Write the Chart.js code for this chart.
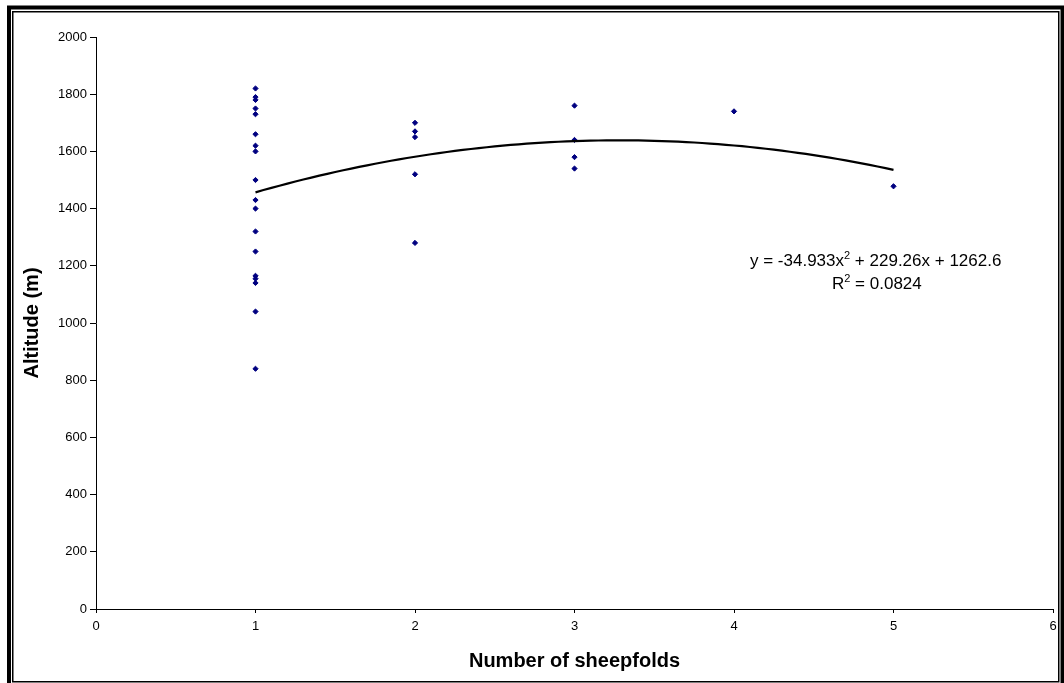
<!DOCTYPE html>
<html><head><meta charset="utf-8">
<script src="https://cdn.jsdelivr.net/npm/chart.js@4.4.1/dist/chart.umd.min.js"></script>
<style>html,body{margin:0;padding:0;background:#fff;overflow:hidden}#wrap{width:1064px;height:683px}</style>
</head><body><div id="wrap"><canvas id="c" width="1064" height="683"></canvas></div>
<script>
// ---- data ----
const sheepfolds = [1,1,1,1,1,1,1,1,1,1,1,1,1,1,1,1,1,1, 2,2,2,2,2, 3,3,3,3, 4, 5];
const altitudes  = [1820,1790,1780,1750,1730,1660,1620,1600,1500,1430,1400,1320,1250,1165,1155,1140,1040,840,
                    1700,1670,1650,1520,1280,
                    1760,1640,1580,1540,
                    1740,
                    1478];
const trendCoefficients = [-34.933, 229.26, 1262.6]; // a, b, c of y = a x^2 + b x + c
const trendRange = [1, 5];
const xTicks = [0,1,2,3,4,5,6];
const yTicks = [0,200,400,600,800,1000,1200,1400,1600,1800,2000];
const xTitle = 'Number of sheepfolds';
const yTitle = 'Altitude (m)';
const eqLine1 = ['y = -34.933x', '2', ' + 229.26x + 1262.6'];
const eqLine2 = ['R', '2', ' = 0.0824'];

const scatterPts = sheepfolds.map((x,i)=>({x:x, y:altitudes[i]}));
const trendPts = [];
for (let k=0;k<=80;k++){
  const x = trendRange[0] + (trendRange[1]-trendRange[0])*k/80;
  const [a,b,c] = trendCoefficients;
  trendPts.push({x:x, y:a*x*x + b*x + c});
}

const FONT = "'Liberation Sans', Arial, sans-serif";

const framePlugin = {
  id:'frame',
  beforeDraw(chart){
    const ctx = chart.ctx;
    ctx.save(); ctx.fillStyle='#fff'; ctx.fillRect(0,0,chart.width,chart.height); ctx.restore();
  },
  afterDraw(chart){
    const ctx = chart.ctx;
    const ca = chart.chartArea;
    ctx.save();
    ctx.strokeStyle='#000';
    ctx.lineWidth=4;
    ctx.strokeRect(9, 7.5, 1053.5, 680);
    ctx.lineWidth=1.5;
    ctx.strokeRect(12.75, 11.75, 1046, 670);
    ctx.fillStyle='#000';
    // axis titles
    ctx.font = 'bold 20px ' + FONT;
    ctx.textAlign = 'center';
    ctx.textBaseline = 'middle';
    ctx.fillText(xTitle, (ca.left+ca.right)/2, 661);
    ctx.save();
    ctx.translate(32, (ca.top+ca.bottom)/2);
    ctx.rotate(-Math.PI/2);
    ctx.fillText(yTitle, 0, 0);
    ctx.restore();
    // equation text
    ctx.textAlign = 'left';
    ctx.textBaseline='alphabetic';
    const drawSup = (parts, x, y) => {
      ctx.font = '17px ' + FONT;
      ctx.fillText(parts[0], x, y); x += ctx.measureText(parts[0]).width;
      ctx.font = '11px ' + FONT;
      ctx.fillText(parts[1], x, y-7); x += ctx.measureText(parts[1]).width;
      ctx.font = '17px ' + FONT;
      ctx.fillText(parts[2], x, y);
    };
    drawSup(eqLine1, 750, 266);
    drawSup(eqLine2, 832, 289);
    ctx.restore();
  }
};

new Chart(document.getElementById('c'), {
  data:{
    datasets:[
      {type:'scatter', data:scatterPts, pointStyle:'rectRot', pointRadius:2.6, pointHoverRadius:2.6,
       backgroundColor:'#000080', borderColor:'#000080', borderWidth:1, order:2},
      {type:'line', data:trendPts, borderColor:'#000', borderWidth:2.2, pointRadius:0, fill:false, tension:0, order:1}
    ]
  },
  options:{
    responsive:false, animation:false, devicePixelRatio:1,
    layout:{padding:{top:37, right:11, left:0, bottom:0}},
    plugins:{legend:{display:false}, tooltip:{enabled:false}},
    events:[],
    scales:{
      x:{type:'linear', min:0, max:6,
         afterBuildTicks(s){ s.ticks = xTicks.map(v=>({value:v})); },
         afterFit(s){ s.height = 74; },
         grid:{drawOnChartArea:false, drawTicks:true, tickLength:4, color:'#000', lineWidth:1},
         border:{display:true, color:'#000', width:1},
         ticks:{font:{family:FONT, size:13}, color:'#000', padding:6, maxRotation:0, callback:v=>String(v)},
         title:{display:false}
      },
      y:{type:'linear', min:0, max:2000,
         afterBuildTicks(s){ s.ticks = yTicks.map(v=>({value:v})); },
         afterFit(s){ s.width = 96; },
         grid:{drawOnChartArea:false, drawTicks:true, tickLength:6, color:'#000', lineWidth:1},
         border:{display:true, color:'#000', width:1},
         ticks:{font:{family:FONT, size:13}, color:'#000', padding:3, callback:v=>String(v)},
         title:{display:false}
      }
    }
  },
  plugins:[framePlugin]
});
</script></body></html>
